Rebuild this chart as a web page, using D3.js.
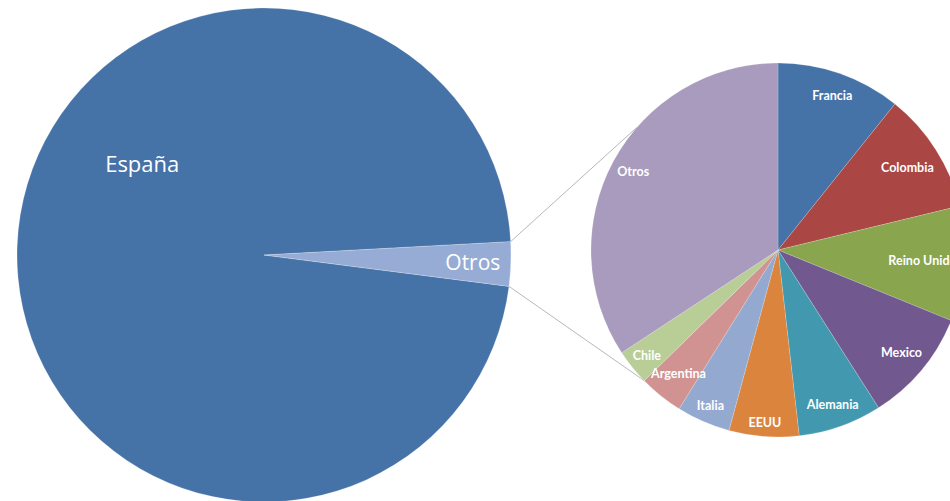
<!DOCTYPE html>
<html>
<head>
<meta charset="utf-8">
<script src="https://cdn.jsdelivr.net/npm/d3@7/dist/d3.min.js"></script>
<style>
  html, body { margin: 0; padding: 0; background: #ffffff; }
  svg { display: block; }
</style>
</head>
<body>
<svg id="chart" width="950" height="501"></svg>
<script>
// ---- Data ----
const mainCategories = ["España", "Otros"];
const mainValues = [97.11, 2.89];

const subCategories = ["Francia", "Colombia", "Reino Unido", "Mexico", "Alemania", "EEUU", "Italia", "Argentina", "Chile", "Otros"];
const subValues = [10.75, 10.47, 9.94, 9.81, 7.22, 6.03, 4.64, 3.83, 3.06, 34.25];

// ---- Layout / style ----
const W = 950, H = 501;
const deg = Math.PI / 180;
const main = { cx: 264, cy: 255, r: 247, start: 97.3 };
const sub = { cx: 778, cy: 250, r: 187, start: 0 };
const mainColors = ["#4572a7", "#97acd5"];
const subColors = ["#4572a7", "#aa4643", "#89a54e", "#71588f", "#4198af", "#db843d", "#93a9cf", "#d19392", "#b9cd96", "#a99bbd"];
const subLabelRadius = [0.877, 0.82, 0.775, 0.86, 0.877, 0.925, 0.905, 0.85, 0.9, 0.88];
const mainLabelPos = [{ angle: 306.7, rf: 0.615, size: 22 }, { angle: 92, rf: 0.846, size: 21 }];
const connectorSubAngles = [310.9, 225.7]; // upper, lower end points on the secondary pie

const svg = d3.select("#chart");
svg.append("rect").attr("width", W).attr("height", H).attr("fill", "#ffffff");

// ---- Main pie ----
const mainPie = d3.pie().sort(null).value(d => d)
  .startAngle(main.start * deg).endAngle((main.start + 360) * deg);
const mainArcs = mainPie(mainValues);
const mainArc = d3.arc().innerRadius(0).outerRadius(main.r);

const gMain = svg.append("g").attr("transform", `translate(${main.cx},${main.cy})`);
gMain.selectAll("path").data(mainArcs).join("path")
  .attr("d", mainArc)
  .attr("fill", (d, i) => mainColors[i])
  .attr("stroke", "rgba(255,255,255,0.35)")
  .attr("stroke-width", 0.6);

gMain.selectAll("text").data(mainArcs).join("text")
  .attr("x", (d, i) => Math.sin(mainLabelPos[i].angle * deg) * main.r * mainLabelPos[i].rf)
  .attr("y", (d, i) => -Math.cos(mainLabelPos[i].angle * deg) * main.r * mainLabelPos[i].rf)
  .attr("dy", "0.35em")
  .attr("text-anchor", "middle")
  .attr("fill", "#ffffff")
  .attr("font-family", "'Open Sans', 'DejaVu Sans', sans-serif")
  .attr("font-size", (d, i) => mainLabelPos[i].size)
  .text((d, i) => mainCategories[i]);

// ---- Connector lines ----
const otherArc = mainArcs[1];
const mainPt = a => [main.cx + Math.sin(a) * main.r, main.cy - Math.cos(a) * main.r];
const subPt = a => [sub.cx + Math.sin(a) * sub.r, sub.cy - Math.cos(a) * sub.r];
const connectors = [
  [mainPt(otherArc.startAngle), subPt(connectorSubAngles[0] * deg)],
  [mainPt(otherArc.endAngle), subPt(connectorSubAngles[1] * deg)]
];
svg.selectAll("line.conn").data(connectors).join("line")
  .attr("class", "conn")
  .attr("x1", d => d[0][0]).attr("y1", d => d[0][1])
  .attr("x2", d => d[1][0]).attr("y2", d => d[1][1])
  .attr("stroke", "#b8b8b8").attr("stroke-width", 1);

// ---- Secondary pie ----
const subPie = d3.pie().sort(null).value(d => d)
  .startAngle(sub.start * deg).endAngle((sub.start + 360) * deg);
const subArcs = subPie(subValues);
const subArc = d3.arc().innerRadius(0).outerRadius(sub.r);

const gSub = svg.append("g").attr("transform", `translate(${sub.cx},${sub.cy})`);
gSub.selectAll("path").data(subArcs).join("path")
  .attr("d", subArc)
  .attr("fill", (d, i) => subColors[i])
  .attr("stroke", "rgba(255,255,255,0.3)")
  .attr("stroke-width", 0.6);

gSub.selectAll("text").data(subArcs).join("text")
  .attr("x", (d, i) => Math.sin((d.startAngle + d.endAngle) / 2) * sub.r * subLabelRadius[i])
  .attr("y", (d, i) => -Math.cos((d.startAngle + d.endAngle) / 2) * sub.r * subLabelRadius[i])
  .attr("dy", "0.35em")
  .attr("text-anchor", "middle")
  .attr("fill", "#ffffff")
  .attr("font-family", "Lato, 'Open Sans', sans-serif")
  .attr("font-weight", "bold")
  .attr("font-size", 12.5)
  .text((d, i) => subCategories[i]);
</script>
</body>
</html>
